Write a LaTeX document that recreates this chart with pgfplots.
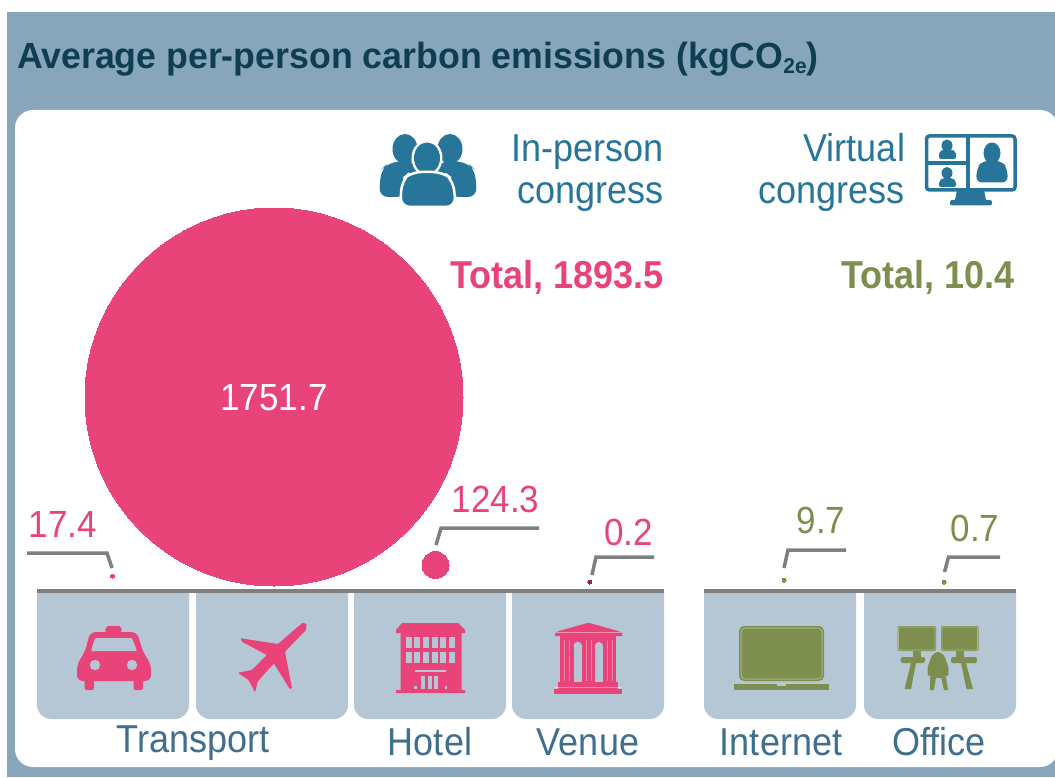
\documentclass[border=0pt]{standalone}
\usepackage{pgfplots}
\pgfplotsset{compat=1.18}
\usepackage{fontspec}
\setmainfont{Liberation Sans}
\definecolor{bgblue}{HTML}{87A6BC}
\definecolor{tile}{HTML}{B5C7D5}
\definecolor{pink}{HTML}{E9447A}
\definecolor{olive}{HTML}{7E8E4F}
\definecolor{olivel}{HTML}{A9B68A}
\definecolor{teal}{HTML}{27769A}
\definecolor{labt}{HTML}{3F6F8C}
\definecolor{titlec}{HTML}{0F3D52}
\definecolor{linec}{HTML}{7F7F7F}
\newcommand{\fs}[1]{\fontsize{#1}{#1}\selectfont}
\newcommand{\tx}[2]{\scalebox{1}[1.08]{\fs{#1}#2}}
\newcommand{\tilebox}[2]{\fill[tile] (#1,592) -- (#2,592) {[rounded corners=14pt] -- (#2,719) -- (#1,719)} -- cycle;}
\begin{document}
\begin{tikzpicture}
\useasboundingbox (0,0) rectangle (1055pt,777pt);
\clip (0,0) rectangle (1055pt,777pt);
\begin{scope}[x=1pt,y=-1pt,yshift=777pt]
\fill[white] (0,0) rectangle (1055,777);
\fill[bgblue] (7,12) rectangle (1055,777);
\fill[white,rounded corners=18pt] (15,110) rectangle (1058,767);
\tilebox{37}{189}\tilebox{196}{348}\tilebox{354}{506}\tilebox{512}{664}
\tilebox{704}{856}\tilebox{864}{1016}
% people
\begin{scope}[teal]
\fill (405,149) ellipse [x radius=12.5,y radius=15];
\fill (450,149) ellipse [x radius=12.5,y radius=15];
\fill[rounded corners=9pt] (379,197) -- (381,170) -- (388,163) -- (410,160) -- (425,170) -- (405,197) -- cycle;
\fill[rounded corners=9pt] (477,197) -- (475,170) -- (468,163) -- (446,160) -- (430,170) -- (450,197) -- cycle;
\fill[white] (427,158) ellipse [x radius=15.5,y radius=18];
\fill (427,158) ellipse [x radius=13,y radius=15.5];
\draw[white,line width=2.5pt,fill=teal,rounded corners=10pt] (400,207) -- (402,180) -- (411,172) -- (443,172) -- (453,180) -- (456,207) -- cycle;
\end{scope}
% monitor
\begin{scope}[teal]
\draw[line width=3.5pt,rounded corners=3pt] (926.5,136) rectangle (1015,190);
\draw[line width=3.5pt] (968,136) -- (968,190) (926,163) -- (968,163);
\fill (957,190) -- (984,190) -- (986,200) -- (955,200) -- cycle;
\fill[rounded corners=2pt] (950,200) rectangle (992,205.5);
\fill (947,145.5) ellipse [x radius=5.5,y radius=6];
\fill[rounded corners=2pt] (939,159) -- (939,152) -- (943,149.5) -- (952,149.5) -- (956,152) -- (956,159) -- cycle;
\fill (947,173) ellipse [x radius=5.5,y radius=6];
\fill[rounded corners=2pt] (939,187) -- (939,181) -- (943,178) -- (952,178) -- (956,181) -- (956,187) -- cycle;
\fill (992,153) ellipse [x radius=8.5,y radius=10.5];
\fill[rounded corners=6pt] (976,182.5) -- (977,168) -- (982,161) -- (1002,161) -- (1007,168) -- (1008,182.5) -- cycle;
\end{scope}
% taxi
\begin{scope}[pink]
\fill[rounded corners=2pt] (105,632) -- (106,626) -- (121,626) -- (122,632) -- cycle;
\fill[rounded corners=6pt] (77,681) -- (77,664) -- (85,652) -- (90,632) -- (137,632) -- (143,652) -- (151,664) -- (151,681) -- cycle;
\fill[rounded corners=2pt] (84.5,678) rectangle (94,690);
\fill[rounded corners=2pt] (133.5,678) rectangle (143,690);
\fill[tile,rounded corners=1pt] (95,638) -- (132,638) -- (137,651) -- (91,651) -- cycle;
\fill[tile] (95,665) circle [radius=5.2];
\fill[tile] (132,665) circle [radius=5.2];
% plane
\fill[rounded corners=1pt] (306.6,624) -- (302.6,622.7) -- (277.9,644) -- (240.7,638.3) -- (241.7,641.7) -- (267,655) -- (251.9,670) -- (237.7,672.7) -- (248.5,680) -- (255.2,692.3) -- (257.6,681.7) -- (273.8,663.3) -- (290,689.3) -- (292,688.3) -- (285,651.7) -- (306,630) -- cycle;
% hotel
\fill (402,623) -- (458,623) -- (465,630) -- (465,633) -- (461.5,633) -- (461.5,690) -- (465,690) -- (465,693) -- (396,693) -- (396,690) -- (400.6,690) -- (400.6,633) -- (396,633) -- (396,630) -- cycle;
\foreach \c in {0,...,5}{
  \fill[tile] ({405.7+8.6*\c},637) rectangle ({411.7+8.6*\c},648);
  \fill[tile] ({405.7+8.6*\c},652) rectangle ({411.7+8.6*\c},663);
}
\fill[tile] (415,669.5) rectangle (446,671.5);
\foreach \c in {0,1,2}{\fill[tile] ({421+6.5*\c},676) rectangle ({425+6.5*\c},689);}
\fill[tile] (414,686) rectangle (416.5,689);
\fill[tile] (444.5,686) rectangle (447,689);
% venue
\fill (588.6,622.7) -- (618,631) -- (622,633) -- (622,636) -- (555,636) -- (555,633) -- (559,631) -- cycle;
\fill (560,636) rectangle (573.5,683);
\fill (582,636) rectangle (595,683);
\fill (603,636) rectangle (616,683);
\fill (573,636) rectangle (583,645);
\fill (594,636) rectangle (604,645);
\fill[tile] (577.75,646) circle [radius=4.3];
\fill[tile] (599,646) circle [radius=4];
\fill (558,682) rectangle (618,689);
\fill (554,689) rectangle (622,693.5);
\draw[white,opacity=.4,line width=.8pt] (556,632.5) -- (621,632.5) (555,687) -- (622,687);
\foreach \x in {564,569,586,591,607,612}{\draw[white,opacity=.35,line width=.8pt] (\x,640) -- (\x,681);}
\end{scope}
% laptop and office
\begin{scope}[olive]
\fill[rounded corners=5pt] (739,626) rectangle (824,681);
\draw[olivel,line width=1pt,rounded corners=4pt] (741,628) rectangle (822,679);
\fill (733.5,683.5) rectangle (828.6,690);
\fill[tile] (777,683.5) rectangle (786,685.5);
\fill[rounded corners=2pt] (897.6,626) rectangle (936,651);
\fill[rounded corners=2pt] (941,626) rectangle (978.6,651);
\draw[olivel,line width=.8pt,rounded corners=2pt] (898.5,627) rectangle (935,650);
\draw[olivel,line width=.8pt,rounded corners=2pt] (942,627) rectangle (977.6,650);
\fill (913,651) rectangle (921,657);
\fill (956,651) rectangle (964,657);
\fill[rounded corners=2pt] (900.6,657) rectangle (925,663);
\fill[rounded corners=2pt] (951,657) rectangle (977,663);
\fill (911,663) -- (916,663) -- (911,689) -- (904.5,689) -- cycle;
\fill (961,663) -- (966,663) -- (973,689) -- (966.5,689) -- cycle;
\fill[rounded corners=6pt] (933,652) -- (943,652) -- (950,672) -- (946,678) -- (930,678) -- (926,672) -- cycle;
\fill (930,677) -- (936,677) -- (934,690) -- (930,690) -- cycle;
\fill (941,677) -- (946,677) -- (948,690) -- (944,690) -- cycle;
\end{scope}
\end{scope}
\begin{axis}[
  at={(0,0)},anchor=south west,
  scale only axis,width=1055pt,height=777pt,
  xmin=0,xmax=1055,ymin=0,ymax=777,y dir=reverse,
  axis lines=none,clip=false,
  nodes={inner sep=0pt,outer sep=0pt}]
% axis lines
\addplot[linec,line width=4pt,no marks] coordinates {(37,591) (664,591)};
\addplot[linec,line width=4pt,no marks] coordinates {(704,591) (1016,591)};
% bubbles
\addplot[only marks,mark=*,mark size=189pt,mark options={draw=pink,fill=pink,line width=0pt},
  nodes near coords={\tx{35}{1751.7}},nodes near coords align={center},
  every node near coord/.append style={text=white,inner sep=0pt,yshift=-1pt}] coordinates {(274,397)};
\addplot[only marks,mark=*,mark size=13.5pt,mark options={draw=pink,fill=pink,line width=0pt}] coordinates {(435.5,565)};
\addplot[only marks,mark=*,mark size=2pt,mark options={draw=pink,fill=pink,line width=0pt}] coordinates {(112.5,576)};
\addplot[only marks,mark=*,mark size=2pt,mark options={draw=pink!60!black,fill=pink!60!black,line width=0pt}] coordinates {(589.6,582)};
\addplot[only marks,mark=*,mark size=2pt,mark options={draw=olive,fill=olive,line width=0pt}] coordinates {(784,580)};
\addplot[only marks,mark=*,mark size=2pt,mark options={draw=olive,fill=olive,line width=0pt}] coordinates {(944,582)};
% leaders
\addplot[linec,line width=3.5pt,no marks] coordinates {(27,553) (107,553) (112,568)};
\addplot[linec,line width=3.5pt,no marks] coordinates {(436,545) (441,528) (539,528)};
\addplot[linec,line width=3.5pt,no marks] coordinates {(592,575) (596,557) (654,557)};
\addplot[linec,line width=3.5pt,no marks] coordinates {(784,568) (788,550) (846,550)};
\addplot[linec,line width=3.5pt,no marks] coordinates {(944.5,572) (948.5,557) (1000,557)};
% text
\node[anchor=base west,text=titlec] at (axis cs:17,68) {\scalebox{1}[1.02]{\fs{35.7}\textbf{Average per-person carbon emissions (kgCO\raisebox{-5pt}{\fs{21}2e})}}};
\node[anchor=base east,text=teal] at (axis cs:664,161) {\tx{36}{In-person}};
\node[anchor=base east,text=teal] at (axis cs:664,203) {\tx{36}{congress}};
\node[anchor=base east,text=teal] at (axis cs:905,161) {\tx{36}{Virtual}};
\node[anchor=base east,text=teal] at (axis cs:905,203) {\tx{36}{congress}};
\node[anchor=base east,text=pink] at (axis cs:664,288) {\tx{36}{\textbf{Total, 1893.5}}};
\node[anchor=base east,text=olive] at (axis cs:1015,288) {\tx{36}{\textbf{Total, 10.4}}};
\node[anchor=base,text=pink] at (axis cs:63,537) {\tx{35}{17.4}};
\node[anchor=base,text=pink] at (axis cs:495.5,512) {\tx{35}{124.3}};
\node[anchor=base,text=pink] at (axis cs:628.5,545) {\tx{35}{0.2}};
\node[anchor=base,text=olive] at (axis cs:821,533) {\tx{35}{9.7}};
\node[anchor=base,text=olive] at (axis cs:975,541) {\tx{35}{0.7}};
\node[anchor=base,text=labt] at (axis cs:193,752) {\tx{36}{Transport}};
\node[anchor=base,text=labt] at (axis cs:430,755) {\tx{36}{Hotel}};
\node[anchor=base,text=labt] at (axis cs:588,755) {\tx{36}{Venue}};
\node[anchor=base,text=labt] at (axis cs:781,755) {\tx{36}{Internet}};
\node[anchor=base,text=labt] at (axis cs:939,755) {\tx{36}{Office}};
\end{axis}
\end{tikzpicture}
\end{document}
